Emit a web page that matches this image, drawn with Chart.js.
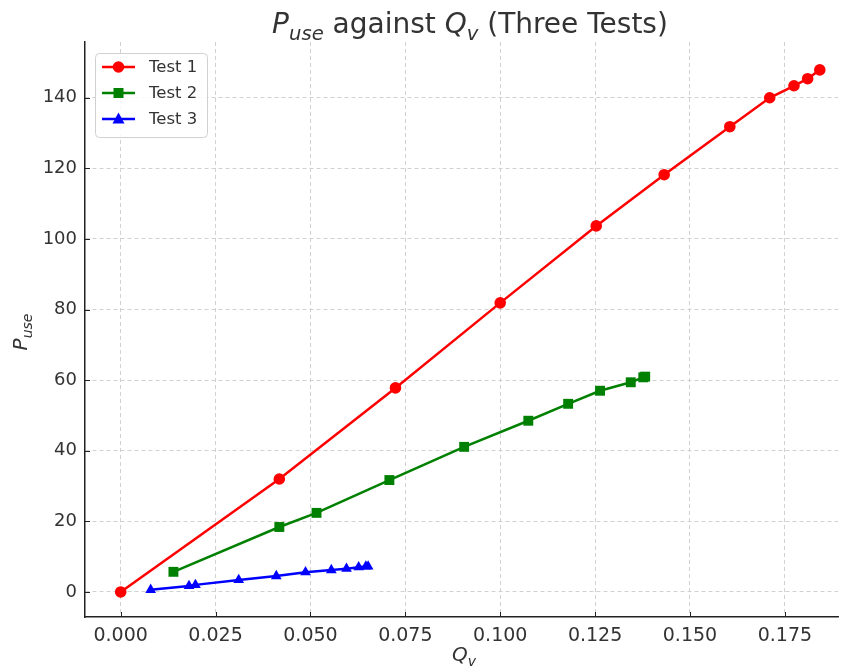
<!DOCTYPE html>
<html>
<head>
<meta charset="utf-8">
<script src="https://cdn.jsdelivr.net/npm/chart.js@4/dist/chart.umd.min.js"></script>
<style>
  html, body { margin: 0; padding: 0; background: #fff; }
  #wrap { width: 845px; height: 672px; }
</style>
</head>
<body>
<div id="wrap"><canvas id="chart"></canvas></div>
<script>
// values
const seriesNames = ['Test 1', 'Test 2', 'Test 3'];
const q1 = [0, 0.0418, 0.0724, 0.1, 0.1253, 0.1432, 0.1605, 0.171, 0.1774, 0.181, 0.1842];
const p1 = [0, 32.0, 57.8, 81.9, 103.7, 118.2, 131.8, 140.0, 143.4, 145.4, 147.9];
const q2 = [0.0139, 0.0418, 0.0516, 0.0708, 0.0905, 0.1074, 0.1179, 0.1263, 0.1344, 0.1377, 0.1382];
const p2 = [5.7, 18.4, 22.4, 31.7, 41.1, 48.5, 53.3, 57.0, 59.4, 60.8, 61.0];
const q3 = [0.0079, 0.018, 0.0197, 0.0311, 0.041, 0.0487, 0.0555, 0.0595, 0.0627, 0.0646, 0.0652];
const p3 = [0.6, 1.7, 2.0, 3.4, 4.5, 5.6, 6.2, 6.6, 7.0, 7.2, 7.2];
const xTicks = [0, 0.025, 0.05, 0.075, 0.1, 0.125, 0.15, 0.175];
const yTicks = [0, 20, 40, 60, 80, 100, 120, 140];

const FONT = "'DejaVu Sans', sans-serif";
const TEXT = '#333333';

const toPoints = (xs, ys) => xs.map((x, i) => ({ x: x, y: ys[i] }));

// draws text made of parts, some italic / subscripted
function richText(ctx, parts, size, x, y, align) {
  const fontOf = p => (p.italic ? 'italic ' : '') + (p.sub ? size * 0.7 : size) + 'px ' + FONT;
  let total = 0;
  parts.forEach(p => { ctx.font = fontOf(p); total += ctx.measureText(p.text).width; });
  let cx = align === 'center' ? x - total / 2 : x;
  ctx.textAlign = 'left';
  ctx.textBaseline = 'alphabetic';
  parts.forEach(p => {
    ctx.font = fontOf(p);
    ctx.fillText(p.text, cx, y + (p.sub ? size * 0.25 : 0));
    cx += ctx.measureText(p.text).width;
  });
}

function marker(ctx, style, x, y, color) {
  ctx.fillStyle = color;
  ctx.beginPath();
  if (style === 'circle') {
    ctx.arc(x, y, 5.8, 0, Math.PI * 2);
  } else if (style === 'rect') {
    ctx.rect(x - 5, y - 5, 10, 10);
  } else {
    ctx.moveTo(x, y - 6.5);
    ctx.lineTo(x + 6, y + 4.5);
    ctx.lineTo(x - 6, y + 4.5);
    ctx.closePath();
  }
  ctx.fill();
}

const decorations = {
  id: 'decorations',
  afterDraw(chart) {
    const ctx = chart.ctx;
    const area = chart.chartArea;
    const xs = chart.scales.x, ys = chart.scales.y;
    ctx.save();

    // inward tick marks
    ctx.strokeStyle = '#222';
    ctx.lineWidth = 1;
    ctx.beginPath();
    xTicks.forEach(v => {
      const px = Math.round(xs.getPixelForValue(v)) + 0.5;
      ctx.moveTo(px, area.bottom); ctx.lineTo(px, area.bottom - 5);
    });
    yTicks.forEach(v => {
      const py = Math.round(ys.getPixelForValue(v)) + 0.5;
      ctx.moveTo(area.left, py); ctx.lineTo(area.left + 5, py);
    });
    ctx.stroke();

    // title and axis labels
    ctx.fillStyle = TEXT;
    richText(ctx, [
      { text: 'P', italic: true }, { text: 'use', italic: true, sub: true },
      { text: ' against ' }, { text: 'Q', italic: true }, { text: 'v', italic: true, sub: true },
      { text: ' (Three Tests)' }
    ], 28, 470, 33, 'center');
    richText(ctx, [{ text: 'Q', italic: true }, { text: 'v', italic: true, sub: true }],
      20, 464, 661, 'center');
    ctx.save();
    ctx.translate(27, 332);
    ctx.rotate(-Math.PI / 2);
    richText(ctx, [{ text: 'P', italic: true }, { text: 'use', italic: true, sub: true }], 20, 0, 0, 'center');
    ctx.restore();

    // legend
    const bx = 95, by = 53, bw = 112, bh = 84;
    ctx.fillStyle = 'rgba(255,255,255,0.85)';
    ctx.strokeStyle = '#d0d0d0';
    ctx.lineWidth = 1;
    ctx.beginPath();
    ctx.roundRect(bx + 0.5, by + 0.5, bw, bh, 4);
    ctx.fill();
    ctx.stroke();
    chart.data.datasets.forEach((ds, i) => {
      const ry = by + 14 + i * 26;
      ctx.strokeStyle = ds.borderColor;
      ctx.lineWidth = 2.5;
      ctx.beginPath();
      ctx.moveTo(bx + 7, ry); ctx.lineTo(bx + 40, ry);
      ctx.stroke();
      marker(ctx, ds.pointStyle, bx + 23.5, ry, ds.borderColor);
      ctx.fillStyle = TEXT;
      ctx.font = '16.5px ' + FONT;
      ctx.textAlign = 'left';
      ctx.textBaseline = 'middle';
      ctx.fillText(ds.label, bx + 54, ry + 1);
    });
    ctx.restore();
  }
};

const makeSet = (label, xs, ys, color, style, radius) => ({
  label: label,
  data: toPoints(xs, ys),
  showLine: true,
  borderColor: color,
  backgroundColor: color,
  borderWidth: 2.5,
  pointStyle: style,
  pointRadius: radius,
  pointHoverRadius: radius,
  pointBorderWidth: 0,
  tension: 0
});

new Chart(document.getElementById('chart'), {
  type: 'scatter',
  data: {
    datasets: [
      makeSet(seriesNames[0], q1, p1, '#ff0000', 'circle', 5.8),
      makeSet(seriesNames[1], q2, p2, '#008000', 'rect', 7),
      makeSet(seriesNames[2], q3, p3, '#0000ff', 'triangle', 6.2)
    ]
  },
  options: {
    responsive: true,
    maintainAspectRatio: false,
    animation: false,
    layout: { padding: { top: 42, right: 0, left: 0, bottom: 0 } },
    plugins: { legend: { display: false }, title: { display: false }, tooltip: { enabled: false } },
    scales: {
      x: {
        type: 'linear',
        min: -0.0094,
        max: 0.189,
        afterFit: s => { s.height = 55; },
        afterBuildTicks: s => { s.ticks = xTicks.map(v => ({ value: v })); },
        ticks: {
          font: { family: FONT, size: 19 },
          color: TEXT,
          padding: 8,
          maxRotation: 0,
          callback: v => v.toFixed(3)
        },
        grid: { color: '#cccccc', lineWidth: 0.9, drawTicks: false },
        border: { color: '#222', width: 1.5, dash: [4, 3] }
      },
      y: {
        type: 'linear',
        min: -7.1,
        max: 155.8,
        afterFit: s => { s.width = 85; },
        afterBuildTicks: s => { s.ticks = yTicks.map(v => ({ value: v })); },
        ticks: {
          font: { family: FONT, size: 18 },
          color: TEXT,
          padding: 8,
          callback: v => String(v)
        },
        grid: { color: '#cccccc', lineWidth: 0.9, drawTicks: false },
        border: { color: '#222', width: 1.5, dash: [4, 3] }
      }
    }
  },
  plugins: [decorations]
});
</script>
</body>
</html>
